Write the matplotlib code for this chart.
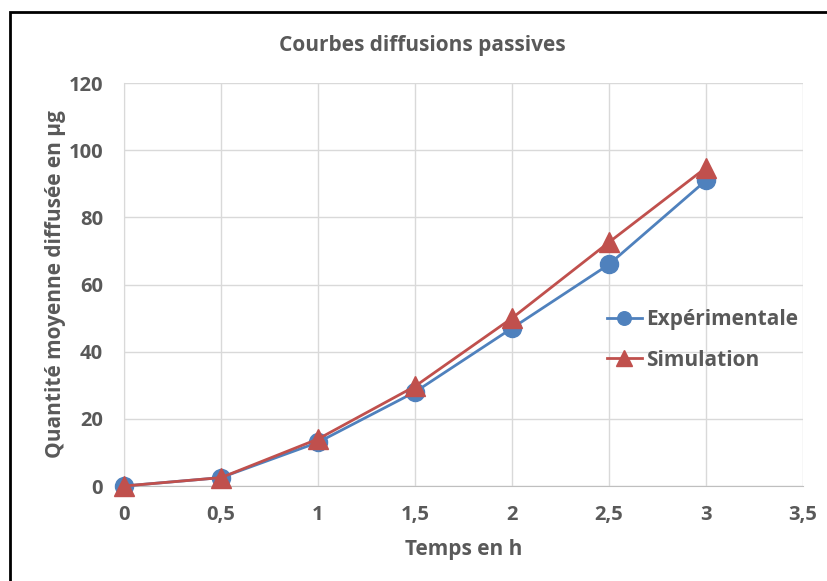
import matplotlib
matplotlib.use("Agg")
import matplotlib.pyplot as plt
from matplotlib.patches import Rectangle
from matplotlib.ticker import FuncFormatter

temps = [0, 0.5, 1, 1.5, 2, 2.5, 3]
experimentale = [0, 2.5, 13, 28, 47, 66, 91]
simulation = [0, 2.5, 14, 29.7, 50, 72.6, 94.8]

grey = "#595959"
plt.rcParams['font.family'] = ['Open Sans', 'DejaVu Sans']
plt.rcParams['font.weight'] = 'bold'

fig = plt.figure(figsize=(8.28, 5.81), dpi=100)
ax = fig.add_axes([0.1498, 0.1635, 0.82, 0.6935])

ax.plot(temps, experimentale, color="#4f81bd", lw=2, marker="o", ms=13,
        label="Expérimentale", zorder=3, clip_on=False)
ax.plot(temps, simulation, color="#c0504d", lw=2, marker="^", ms=15,
        label="Simulation", zorder=4, clip_on=False)

ax.set_xlim(0, 3.5)
ax.set_ylim(0, 120)
ax.set_xticks([0, 0.5, 1, 1.5, 2, 2.5, 3, 3.5])
ax.set_yticks(range(0, 121, 20))
ax.xaxis.set_major_formatter(FuncFormatter(lambda v, p: ("%g" % v).replace(".", ",")))
ax.grid(True, color="#d9d9d9", lw=1)
ax.set_axisbelow(True)
for s in ["top", "right"]:
    ax.spines[s].set_visible(False)
ax.spines["left"].set_color("#d9d9d9")
ax.spines["bottom"].set_color("#bfbfbf")
ax.tick_params(length=0, labelsize=14.5, colors=grey)
ax.tick_params(axis="y", pad=15)
ax.tick_params(axis="x", pad=14)
for lab in ax.get_xticklabels() + ax.get_yticklabels():
    lab.set_fontweight("bold")

ax.set_xlabel("Temps en h", fontsize=15, color=grey, fontweight="bold", labelpad=10)
ax.set_ylabel("Quantité moyenne diffusée en µg", fontsize=15, color=grey,
              fontweight="bold", labelpad=2)
fig.text(0.51, 0.922, "Courbes diffusions passives", ha="center", va="center",
         fontsize=15, color=grey, fontweight="bold")

leg = ax.legend(loc="center left", bbox_to_anchor=(0.711, 0.363), frameon=False,
                fontsize=15, handlelength=1.7, handletextpad=0.2,
                labelspacing=0.95, markerscale=0.75, borderpad=0,
                borderaxespad=0)
for t in leg.get_texts():
    t.set_color(grey)
    t.set_fontweight("bold")

# outer frame around the chart
fig.patches.append(Rectangle((10 / 828, -0.05), 1.1, 1 - 12 / 581 + 0.05,
                             transform=fig.transFigure, fill=False,
                             edgecolor="black", lw=2))

fig.savefig("out.png", dpi=100)
